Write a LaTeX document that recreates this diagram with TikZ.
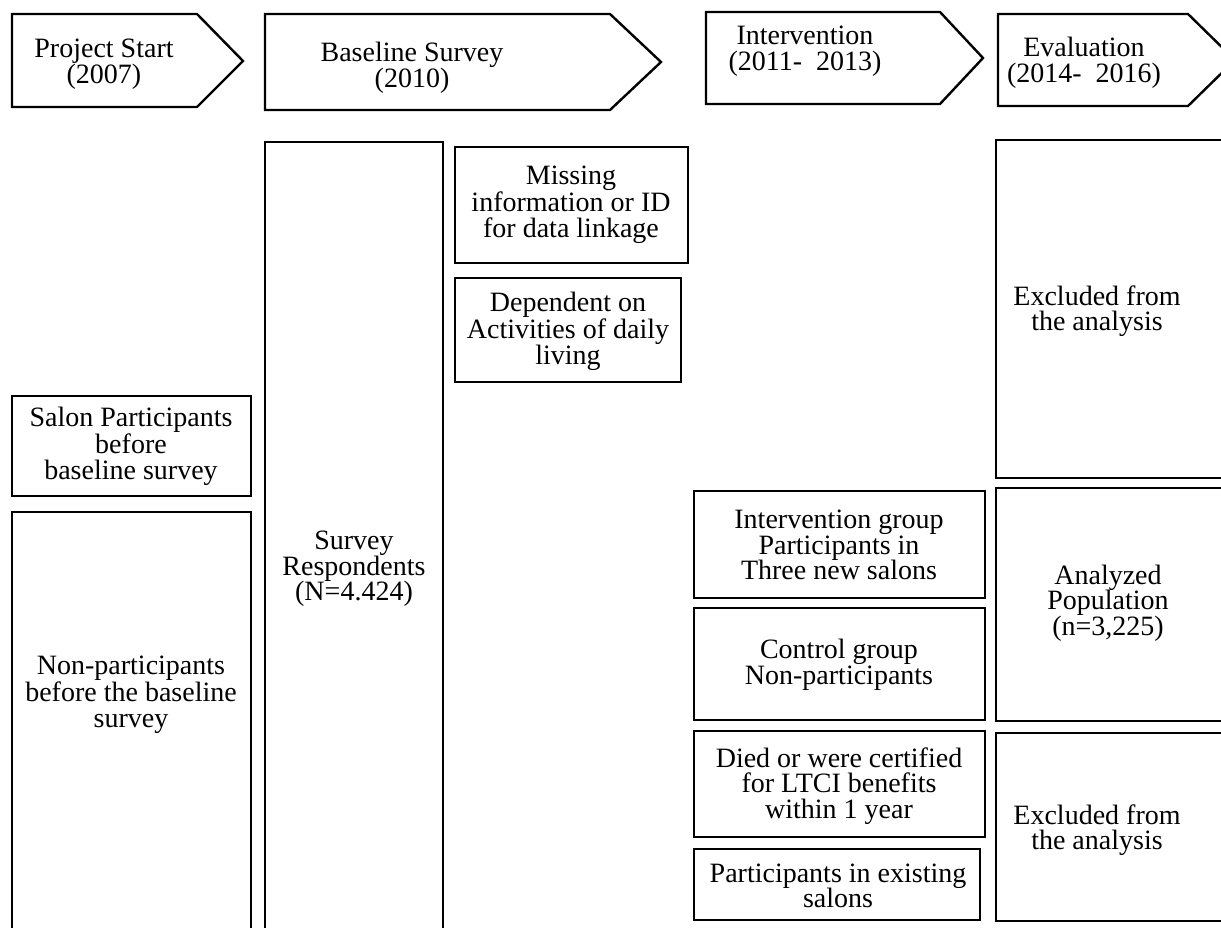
\documentclass[tikz,border=0pt]{standalone}
\usepackage{fontspec}
\setmainfont{Liberation Serif}
\begin{document}
\begin{tikzpicture}[x=0.75pt,y=-0.75pt,
  outline/.style={draw=black,line width=1.8pt,line join=miter},
  txt/.style={align=center,inner sep=0pt,font=\fontsize{21}{19.2}\selectfont}]
\useasboundingbox (0,0) rectangle (1221,928);
\fill[white] (0,0) rectangle (1221,928);
\begin{scope}
\clip (0,0) rectangle (1221,928);
% phase arrows
\draw[outline] (12,14) -- (197,14) -- (243,61) -- (197,107) -- (12,107) -- cycle;
\draw[outline] (265,14) -- (610,14) -- (661,62) -- (610,110) -- (265,110) -- cycle;
\draw[outline] (706,12) -- (940,12) -- (983,58) -- (940,104) -- (706,104) -- cycle;
\draw[outline] (998,14) -- (1188,14) -- (1235,60) -- (1188,106) -- (998,106) -- cycle;
% boxes
\draw[outline] (12,396) rectangle (251,496);
\draw[outline] (12,512) rectangle (251,940);
\draw[outline] (265,142) rectangle (443,940);
\draw[outline] (455,147) rectangle (688,263);
\draw[outline] (455,278) rectangle (681,382);
\draw[outline] (996,140) rectangle (1240,478);
\draw[outline] (694,491) rectangle (985,598);
\draw[outline] (996,488) rectangle (1240,721);
\draw[outline] (694,608) rectangle (985,720);
\draw[outline] (694,731) rectangle (985,837);
\draw[outline] (996,733) rectangle (1240,921);
\draw[outline] (694,849) rectangle (980,920);
\end{scope}
% texts
\node[txt] (ps) at (104,64) {Project Start\\(2007)};
\node[txt] (bs) at (412,68) {Baseline Survey\\(2010)};
\node[txt] (iv) at (805,51) {Intervention\\(2011-\ \ 2013)};
\node[txt] (ev) at (1084,63) {Evaluation\\(2014-\ \ 2016)};
\node[txt] (salon) at (131,446) {Salon Participants\\before\\baseline survey};
\node[txt] (nonp) at (131,695) {Non-participants\\before the baseline\\survey};
\node[txt] (resp) at (354,569) {Survey\\Respondents\\(N=4.424)};
\node[txt] (miss) at (571,205) {Missing\\information or ID\\for data linkage};
\node[txt] (dep) at (568,331) {Dependent on\\Activities of daily\\living};
\node[txt] (exc1) at (1097,311) {Excluded from\\the analysis};
\node[txt] (ig) at (839,545) {Intervention group\\Participants in\\Three new salons};
\node[txt] (an) at (1108,603) {Analyzed\\Population\\(n=3,225)};
\node[txt] (cg) at (839,665) {Control group\\Non-participants};
\node[txt] (died) at (839,786) {Died or were certified\\for LTCI benefits\\within 1 year};
\node[txt] (pex) at (838,886) {Participants in existing\\salons};
\node[txt] (exc2) at (1097,830) {Excluded from\\the analysis};
\end{tikzpicture}
\end{document}
